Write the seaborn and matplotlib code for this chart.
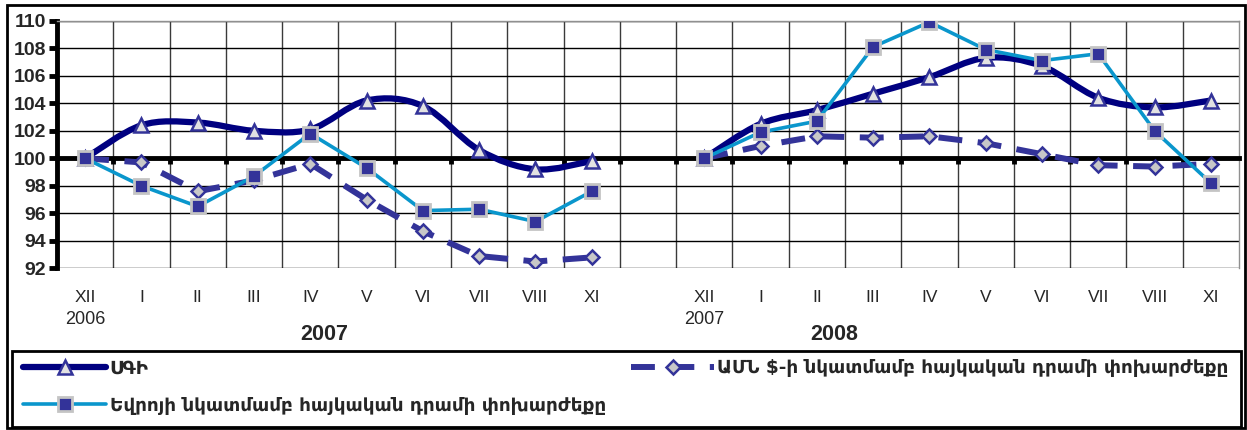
import matplotlib
matplotlib.use("Agg")
import matplotlib.pyplot as plt
import numpy as np
import seaborn as sns
from matplotlib.lines import Line2D
from matplotlib.patches import PathPatch, Rectangle
from matplotlib.path import Path

# month labels for the two periods, an empty slot separates them
months = ["XII", "I", "II", "III", "IV", "V", "VI", "VII", "VIII", "XI"]
tick_labels = months + [""] + months

cpi_2007 = [100, 102.4, 102.6, 102.0, 102.1, 104.2, 103.8, 100.6, 99.2, 99.8]
cpi_2008 = [100, 102.5, 103.5, 104.7, 105.9, 107.3, 106.7, 104.4, 103.7, 104.2]
usd_2007 = [100, 99.7, 97.6, 98.4, 99.6, 97.0, 94.7, 92.9, 92.5, 92.8]
usd_2008 = [100, 100.9, 101.6, 101.5, 101.6, 101.1, 100.3, 99.5, 99.4, 99.6]
eur_2007 = [100, 98.0, 96.5, 98.7, 101.8, 99.3, 96.2, 96.3, 95.4, 97.6]
eur_2008 = [100, 101.9, 102.7, 108.1, 109.9, 107.9, 107.1, 107.6, 102.0, 98.2]

labels = ["ՍԳԻ",
          "ԱՄՆ $-ի նկատմամբ հայկական դրամի փոխարժեքը",
          "Եվրոյի նկատմամբ հայկական դրամի փոխարժեքը"]

NAVY = "#000080"
BLUE = "#333399"
LIGHT = "#0A96CC"

W, H = 1247, 430


def smooth_path(xs, ys):
    """excel style smoothed line through the points"""
    pts = np.column_stack([xs, ys]).astype(float)
    n = len(pts)
    verts = [pts[0]]
    codes = [Path.MOVETO]
    for i in range(n - 1):
        p0 = pts[max(i - 1, 0)]
        p1 = pts[i]
        p2 = pts[i + 1]
        p3 = pts[min(i + 2, n - 1)]
        verts += [p1 + (p2 - p0) / 6, p2 - (p3 - p1) / 6, p2]
        codes += [Path.CURVE4] * 3
    return Path(verts, codes)


sns.set_style("white")
plt.rcParams["font.family"] = ["Liberation Sans", "DejaVu Sans"]

fig = plt.figure(figsize=(W / 100, H / 100), dpi=100)
ax = fig.add_axes([57 / W, 1 - 268.4 / H, (1239 - 57) / W, (268.4 - 20.7) / H])

x07 = np.arange(0, 10)
x08 = np.arange(11, 21)

usd_style = dict(color=BLUE, lw=4.3, linestyle=(0, (4, 2.6)), marker="D", markersize=7.5,
                 markerfacecolor="#C8C8C8", markeredgecolor=BLUE, markeredgewidth=1.8)
cpi_style = dict(color=NAVY, marker="^", markersize=10, markerfacecolor="#E2E2E2",
                 markeredgecolor=BLUE, markeredgewidth=1.8)
eur_style = dict(color=LIGHT, lw=2.6, marker="s", markersize=9.5,
                 markerfacecolor=BLUE, markeredgecolor="#C4C4C4", markeredgewidth=2)

for xs, ys in [(x07, usd_2007), (x08, usd_2008)]:
    sns.lineplot(x=xs, y=ys, ax=ax, zorder=3, **usd_style)

for xs, ys in [(x07, cpi_2007), (x08, cpi_2008)]:
    ax.add_patch(PathPatch(smooth_path(xs, ys), fill=False, edgecolor=NAVY, lw=4.5,
                           capstyle="round", joinstyle="round", zorder=4))
    sns.lineplot(x=xs, y=ys, ax=ax, linestyle="none", zorder=5, **cpi_style)

for xs, ys in [(x07, eur_2007), (x08, eur_2008)]:
    sns.lineplot(x=xs, y=ys, ax=ax, zorder=6, **eur_style)

ax.set_xlim(-0.5, 20.5)
ax.set_ylim(92, 110)
ax.set_xlabel("")
ax.set_ylabel("")

# grid on the category boundaries and every 2 units
ax.set_xticks(np.arange(0.5, 20, 1))
ax.set_yticks(np.arange(92, 111, 2))
ax.grid(True, axis="x", color="#3a3a3a", lw=1)
ax.grid(True, axis="y", color="black", lw=1)
ax.set_axisbelow(True)

ax.spines["bottom"].set_position(("data", 100))
ax.spines["bottom"].set_linewidth(3.5)
ax.spines["bottom"].set_color("black")
ax.spines["bottom"].set_zorder(2.5)
ax.spines["left"].set_linewidth(3.5)
ax.spines["left"].set_color("black")
for s in ["top", "right"]:
    ax.spines[s].set_color("#909090")
    ax.spines[s].set_linewidth(1)

ax.tick_params(axis="x", bottom=True, direction="out", length=4, width=3.5,
               labelbottom=False, color="black")
ax.tick_params(axis="y", left=True, direction="out", length=6, width=3.5, pad=2,
               color="black")
for t in ax.get_yticklabels():
    t.set_fontsize(14)
    t.set_fontweight("bold")

sec = ax.secondary_xaxis(0)
sec.set_xticks(np.arange(21), tick_labels)
sec.tick_params(length=0, pad=15.5, labelsize=12.5)
sec.spines["bottom"].set_visible(False)

trans = ax.get_xaxis_transform()
ax.text(0, -0.172, "2006", transform=trans, ha="center", va="top", fontsize=13)
ax.text(11, -0.172, "2007", transform=trans, ha="center", va="top", fontsize=13)
ax.text(4.25, -0.225, "2007", transform=trans, ha="center", va="top", fontsize=15.5,
        fontweight="bold")
ax.text(13.3, -0.225, "2008", transform=trans, ha="center", va="top", fontsize=15.5,
        fontweight="bold")

# frames
fig.patches.append(Rectangle((7 / W, 2 / H), (1245 - 7) / W, (425 - 2) / H,
                             transform=fig.transFigure, fill=False, lw=2, edgecolor="black"))
fig.patches.append(Rectangle((12 / W, 3 / H), (1241 - 12) / W, (427 - 351) / H,
                             transform=fig.transFigure, fill=False, lw=2, edgecolor="black"))

handles = [
    Line2D([], [], lw=4.5, **cpi_style),
    Line2D([], [], **eur_style),
    Line2D([], [], **usd_style),
]
fig.legend(handles, [labels[0], labels[2], labels[1]], loc="upper left",
           bbox_to_anchor=(16 / W, 1 - 352 / H), ncol=2, frameon=False,
           handlelength=4.5, handletextpad=0.2, columnspacing=1.4, labelspacing=1.05,
           borderaxespad=0, prop={"family": "DejaVu Sans", "weight": "bold", "size": 13.2})

fig.savefig("out.png", dpi=100)
